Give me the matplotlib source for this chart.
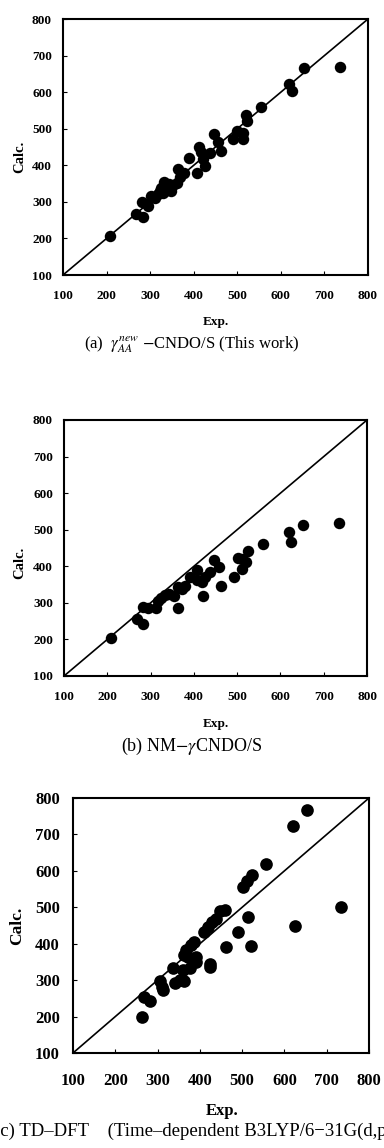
import matplotlib
matplotlib.use("Agg")
import matplotlib.pyplot as plt

plt.rcParams['font.family'] = ['Liberation Serif', 'DejaVu Serif']
plt.rcParams['mathtext.fontset'] = 'stix'

# Panel (a): gamma_AA^new - CNDO/S
exp_a = [207, 268, 284, 282, 292, 295, 301, 312, 318, 322, 326, 330, 332, 336, 340, 344, 349,
         352, 362, 364, 368, 378, 389, 408, 411, 417, 421, 425, 438, 447, 456, 462, 490, 499,
         512, 512, 519, 522, 555, 619, 625, 652, 735]
calc_a = [208, 266, 259, 300, 295, 288, 316, 310, 322, 330, 338, 325, 355, 345, 332, 350, 331,
          345, 351, 390, 369, 378, 419, 378, 449, 437, 416, 399, 433, 485, 465, 439, 471, 495,
          487, 471, 537, 522, 560, 621, 603, 665, 670]

# Panel (b): NM-gamma CNDO/S
exp_b = [208, 268, 283, 283, 295, 313, 318, 324, 334, 342, 353, 364, 364, 372, 380, 392, 408,
         408, 418, 420, 426, 437, 447, 459, 462, 492, 501, 512, 512, 520, 524, 559, 620, 624,
         652, 735]
calc_b = [203, 256, 241, 290, 285, 287, 305, 312, 321, 325, 319, 285, 344, 337, 346, 372, 390,
          363, 358, 319, 372, 385, 417, 399, 347, 372, 424, 419, 392, 413, 442, 460, 495, 467,
          513, 519]

# Panel (c): TD-DFT
exp_c = [262, 268, 283, 305, 310, 313, 336, 341, 353, 359, 362, 362, 368, 372, 377, 379, 387,
         391, 391, 409, 419, 423, 424, 428, 437, 447, 460, 463, 491, 501, 511, 514, 521, 523,
         557, 620, 626, 653, 733]
calc_c = [198, 253, 242, 297, 282, 274, 334, 291, 300, 327, 298, 370, 383, 364, 332, 396, 405,
          364, 350, 432, 446, 335, 343, 460, 469, 489, 492, 390, 431, 557, 571, 473, 395, 589,
          618, 722, 448, 767, 500]

tick_vals = [100, 200, 300, 400, 500, 600, 700, 800]

fig = plt.figure(figsize=(3.84, 11.48), dpi=100)
W, H = 384, 1148


def make_axes(l, r, t, b):
    return fig.add_axes([l / W, 1 - b / H, (r - l) / W, (b - t) / H])


def style(ax, xs, ys, fs, ms, pad_x, pad_y):
    ax.scatter(xs, ys, s=ms, color='black', zorder=3, linewidths=0)
    ax.plot([100, 800], [100, 800], color='black', lw=1.2, zorder=2)
    ax.set_xlim(100, 800)
    ax.set_ylim(100, 800)
    ax.set_xticks(tick_vals)
    ax.set_yticks(tick_vals)
    ax.tick_params(direction='in', length=3, width=0.8, labelsize=fs, top=False, right=False)
    ax.tick_params(axis='x', pad=pad_x)
    ax.tick_params(axis='y', pad=pad_y)
    for lab in ax.get_xticklabels() + ax.get_yticklabels():
        lab.set_fontweight('bold')
    for sp in ax.spines.values():
        sp.set_linewidth(1.5)


ax_a = make_axes(63, 368, 19, 275)
style(ax_a, exp_a, calc_a, 9.5, 68, 11, 8)
fig.text(20 / W, 1 - 157 / H, 'Calc.', rotation=90, ha='center', va='center', fontsize=10.5, fontweight='bold')
fig.text(216 / W, 1 - 322 / H, 'Exp.', ha='center', va='center', fontsize=9.5, fontweight='bold')
fig.text(192 / W, 1 - 345 / H, r'(a)  $\gamma_{AA}^{new}$ $-$CNDO/S (This work)', ha='center', va='center', fontsize=12)

ax_b = make_axes(64, 367, 420, 676)
style(ax_b, exp_b, calc_b, 9.5, 68, 11, 8)
fig.text(20 / W, 1 - 563 / H, 'Calc.', rotation=90, ha='center', va='center', fontsize=10.5, fontweight='bold')
fig.text(216 / W, 1 - 724 / H, 'Exp.', ha='center', va='center', fontsize=9.5, fontweight='bold')
fig.text(192 / W, 1 - 746 / H, r'(b) NM$-\gamma$CNDO/S', ha='center', va='center', fontsize=13)

ax_c = make_axes(73, 369, 798, 1053)
style(ax_c, exp_c, calc_c, 12, 83, 14.5, 9.4)
fig.text(17 / W, 1 - 926 / H, 'Calc.', rotation=90, ha='center', va='center', fontsize=12.5, fontweight='bold')
fig.text(222 / W, 1 - 1111 / H, 'Exp.', ha='center', va='center', fontsize=12, fontweight='bold')
fig.text(197 / W, 1 - 1131 / H, '(c) TD\u2013DFT    (Time\u2013dependent B3LYP/6\u221231G(d,p))', ha='center', va='center', fontsize=13.5)

fig.savefig('out.png', dpi=100)
